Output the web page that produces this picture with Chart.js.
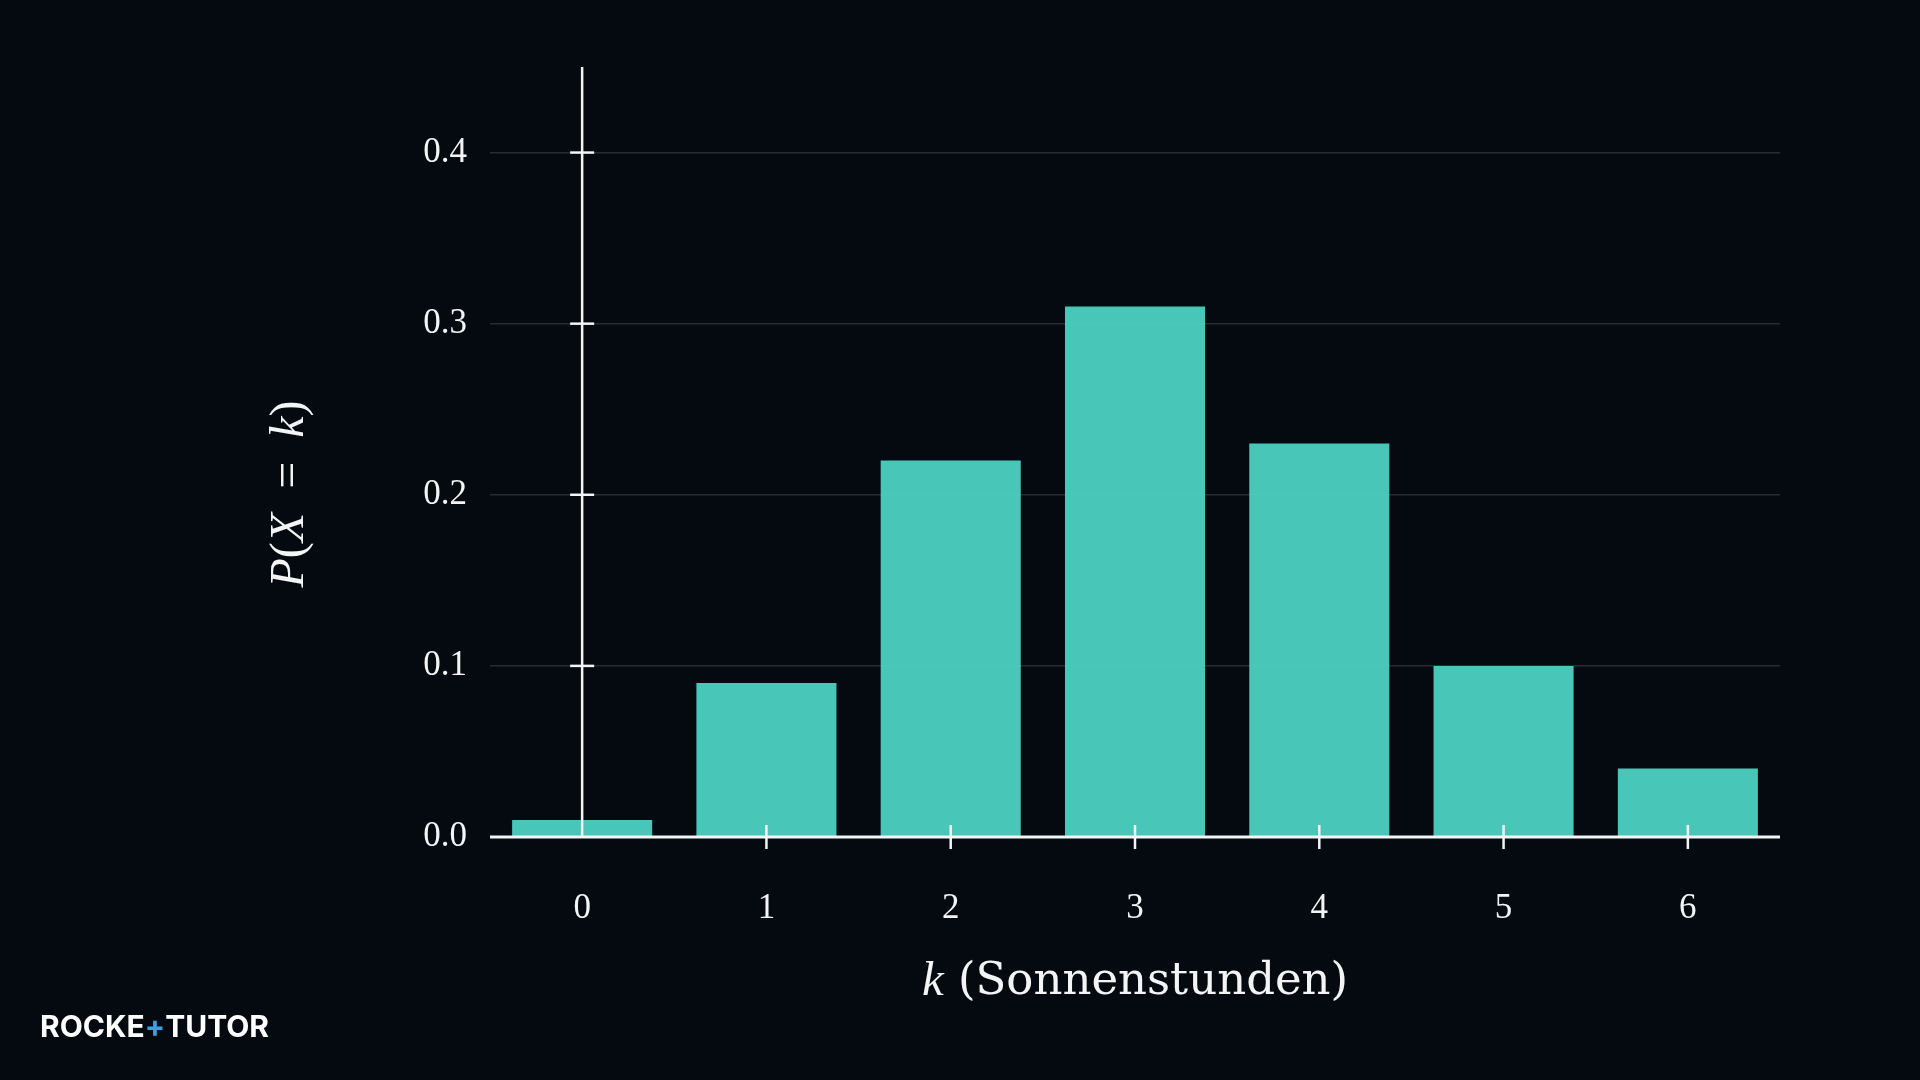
<!DOCTYPE html>
<html>
<head>
<meta charset="utf-8">
<script src="https://cdn.jsdelivr.net/npm/chart.js@4"></script>
<style>
  html, body { margin: 0; padding: 0; background: #050a10; }
  #wrap { width: 1920px; height: 1080px; }
</style>
</head>
<body>
<div id="wrap"><canvas id="chart" width="1920" height="1080"></canvas></div>
<script>
const kLabels = ['0', '1', '2', '3', '4', '5', '6'];
const probabilities = [0.01, 0.09, 0.22, 0.31, 0.23, 0.10, 0.04];
const yTickValues = [0, 0.1, 0.2, 0.3, 0.4];

const BG = '#050a10';
const BAR = 'rgba(76, 211, 194, 0.94)';
const GRID = '#262c32';
const WHITE = '#f2f4f5';

// draws a line of text made of pieces in different fonts, centered on x
function drawRuns(ctx, runs, x, y) {
  let total = 0;
  runs.forEach(r => { ctx.font = r.font; total += ctx.measureText(r.text).width; });
  let cx = x - total / 2;
  ctx.textAlign = 'left';
  ctx.textBaseline = 'middle';
  runs.forEach(r => {
    ctx.font = r.font;
    ctx.fillText(r.text, cx, y);
    cx += ctx.measureText(r.text).width;
  });
}

const axesPlugin = {
  id: 'axesPlugin',
  beforeDraw(chart) {
    const { ctx } = chart;
    ctx.save();
    ctx.fillStyle = BG;
    ctx.fillRect(0, 0, chart.width, chart.height);
    ctx.restore();
  },
  afterDatasetsDraw(chart) {
    const { ctx, chartArea: { left, right, top }, scales: { x, y } } = chart;
    const base = y.getPixelForValue(0);
    const x0 = x.getPixelForValue(0);
    ctx.save();
    ctx.strokeStyle = WHITE;
    // baseline
    ctx.lineWidth = 3;
    ctx.beginPath();
    ctx.moveTo(left, base);
    ctx.lineTo(right, base);
    ctx.stroke();
    // vertical axis at k = 0
    ctx.lineWidth = 2.5;
    ctx.beginPath();
    ctx.moveTo(x0, top);
    ctx.lineTo(x0, base);
    ctx.stroke();
    // y tick crosses
    yTickValues.forEach(v => {
      if (v === 0) return;
      const py = y.getPixelForValue(v);
      ctx.beginPath();
      ctx.moveTo(x0 - 12, py);
      ctx.lineTo(x0 + 12, py);
      ctx.stroke();
    });
    // x ticks
    kLabels.forEach((k, i) => {
      if (i === 0) return;
      const px = x.getPixelForValue(i);
      ctx.beginPath();
      ctx.moveTo(px, base - 12);
      ctx.lineTo(px, base + 12);
      ctx.stroke();
    });
    ctx.restore();
  },
  afterDraw(chart) {
    const { ctx, chartArea: { left, right } } = chart;
    ctx.save();
    ctx.fillStyle = WHITE;
    // x title
    drawRuns(ctx, [
      { text: 'k', font: 'italic 49px "Liberation Serif"' },
      { text: ' (Sonnenstunden)', font: '45px "DejaVu Serif"' }
    ], (left + right) / 2, 982);
    // y title
    ctx.translate(290, 494);
    ctx.rotate(-Math.PI / 2);
    drawRuns(ctx, [
      { text: 'P', font: 'italic 48px "Liberation Serif"' },
      { text: '(', font: '48px "Liberation Serif"' },
      { text: 'X', font: 'italic 48px "Liberation Serif"' },
      { text: '\u2002=\u2002', font: '48px "Liberation Serif"' },
      { text: 'k', font: 'italic 48px "Liberation Serif"' },
      { text: ')', font: '48px "Liberation Serif"' }
    ], 0, 0);
    ctx.restore();

    // logo
    ctx.save();
    ctx.font = '700 30px Inter';
    ctx.textBaseline = 'middle';
    ctx.textAlign = 'left';
    let lx = 40;
    [['ROCKE', '#ffffff'], ['+', '#3b9fe0'], ['TUTOR', '#ffffff']].forEach(([t, c]) => {
      ctx.fillStyle = c;
      ctx.fillText(t, lx, 1028);
      lx += ctx.measureText(t).width;
    });
    ctx.restore();
  }
};

const data = {
  labels: kLabels,
  datasets: [{
    label: 'P(X = k)',
    data: probabilities,
    backgroundColor: BAR,
    borderWidth: 0,
    categoryPercentage: 1,
    barPercentage: 0.76
  }]
};

const config = {
  type: 'bar',
  data,
  options: {
    responsive: false,
    animation: false,
    layout: { padding: { top: 67, right: 140, left: 0, bottom: 0 } },
    plugins: {
      legend: { display: false },
      tooltip: { enabled: false }
    },
    scales: {
      x: {
        grid: { display: false, drawTicks: false },
        border: { display: false },
        ticks: {
          color: WHITE,
          padding: 51,
          font: { family: 'Liberation Serif', size: 35 }
        },
        afterFit: (s) => { s.height = 243; }
      },
      y: {
        min: 0,
        max: 0.45,
        grid: {
          drawTicks: false,
          lineWidth: 1.5,
          color: (c) => (c.tick && c.tick.value === 0) ? 'rgba(0,0,0,0)' : GRID
        },
        border: { display: false },
        ticks: {
          color: WHITE,
          padding: 23,
          font: { family: 'Liberation Serif', size: 35 },
          callback: (v) => Number(v).toFixed(1)
        },
        afterBuildTicks: (s) => { s.ticks = yTickValues.map(v => ({ value: v })); },
        afterFit: (s) => { s.width = 490; }
      }
    }
  },
  plugins: [axesPlugin]
};

var chart = new Chart(document.getElementById('chart').getContext('2d'), config);
</script>
</body>
</html>
